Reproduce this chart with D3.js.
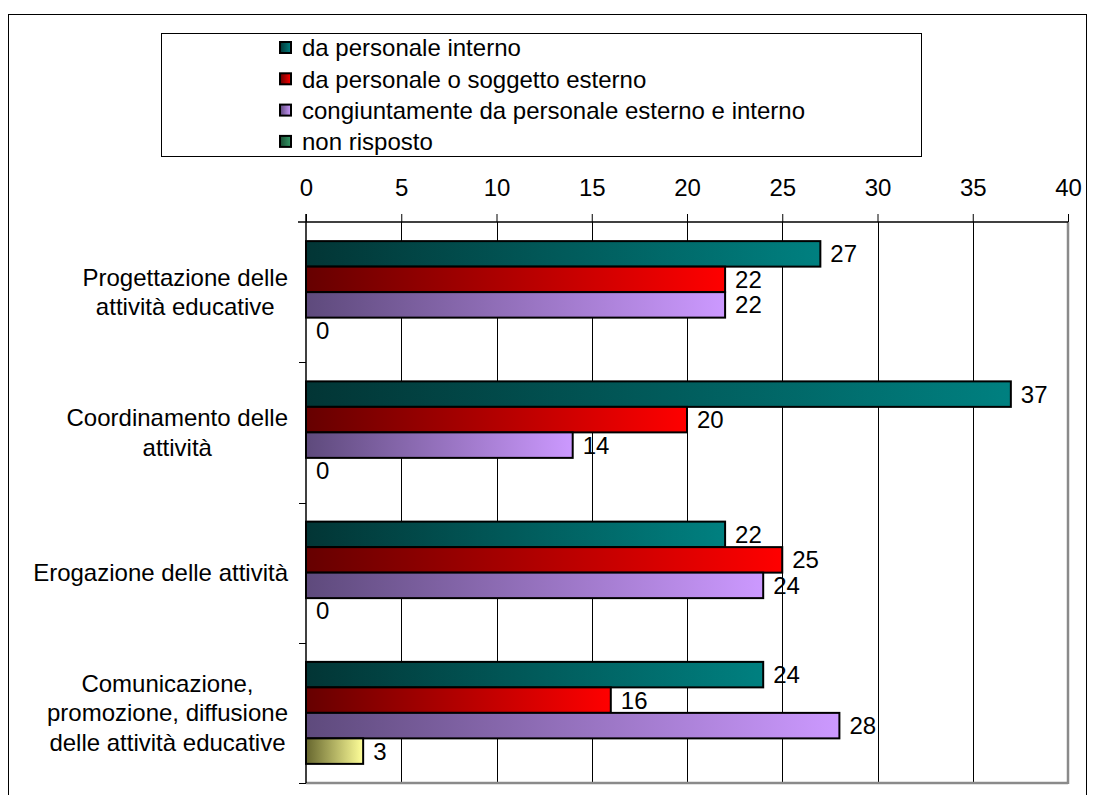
<!DOCTYPE html>
<html>
<head>
<meta charset="utf-8">
<script src="https://cdn.jsdelivr.net/npm/d3@7"></script>
<style>
  html, body { margin: 0; padding: 0; background: #fff; }
  svg { display: block; font-family: "Liberation Sans", Arial, sans-serif; }
</style>
</head>
<body>
<svg id="chart" width="1093" height="795"></svg>
<script>
// Categories (label lines) and series values
const categories = [
  ["Progettazione delle", "attività educative"],
  ["Coordinamento delle", "attività"],
  ["Erogazione delle attività"],
  ["Comunicazione,", "promozione, diffusione", "delle attività educative"]
];
const seriesNames = [
  "da personale interno",
  "da personale o soggetto esterno",
  "congiuntamente da personale esterno e interno",
  "non risposto"
];
const valInterno = [27, 37, 22, 24];
const valEsterno = [22, 20, 25, 16];
const valCongiunto = [22, 14, 24, 28];
const valNonRisposto = [0, 0, 0, 3];
const xTicks = [0, 5, 10, 15, 20, 25, 30, 35, 40];

// Gradient colours: [dark left, light right]
const barColors = [
  ["#023535", "#008080"],
  ["#660000", "#ff0000"],
  ["#5e4a7c", "#cc99ff"],
  ["#66662e", "#ffff99"]
];
const legendColors = [
  ["#023535", "#008080"],
  ["#660000", "#ff0000"],
  ["#5e4a7c", "#cc99ff"],
  ["#1a4d33", "#339966"]
];

const seriesValues = [valInterno, valEsterno, valCongiunto, valNonRisposto];
const catKeys = categories.map((c, i) => "c" + i);

const svg = d3.select("#chart");
const fontSize = 24;

const plot = { left: 306, right: 1068, top: 222, bottom: 783 };

const x = d3.scaleLinear().domain([0, 40]).range([plot.left, plot.right]);
const y0 = d3.scaleBand().domain(catKeys).range([plot.top, plot.bottom]).padding(0);
const y1 = d3.scaleBand().domain(d3.range(seriesNames.length))
  .range([0, y0.bandwidth()]).paddingInner(0).paddingOuter(0.75);

// gradients
const defs = svg.append("defs");
function addGrad(id, c) {
  const g = defs.append("linearGradient").attr("id", id)
    .attr("x1", "0%").attr("x2", "100%").attr("y1", "0%").attr("y2", "0%");
  g.append("stop").attr("offset", "0%").attr("stop-color", c[0]);
  g.append("stop").attr("offset", "100%").attr("stop-color", c[1]);
}
barColors.forEach((c, i) => addGrad("bar" + i, c));
legendColors.forEach((c, i) => addGrad("leg" + i, c));

// outer chart border
svg.append("rect").attr("x", 8.5).attr("y", 14.5).attr("width", 1078).attr("height", 800)
  .attr("fill", "none").attr("stroke", "#000").attr("stroke-width", 1);

// legend
const legend = svg.append("g");
legend.append("rect").attr("x", 161.5).attr("y", 33.5).attr("width", 760).attr("height", 123)
  .attr("fill", "#fff").attr("stroke", "#000").attr("stroke-width", 1);
seriesNames.forEach((name, i) => {
  const cy = 48 + i * 31.3;
  legend.append("rect").attr("x", 280).attr("y", cy - 6).attr("width", 11).attr("height", 11)
    .attr("fill", `url(#leg${i})`).attr("stroke", "#000").attr("stroke-width", 2);
  legend.append("text").attr("x", 302).attr("y", cy).attr("dy", "0.35em")
    .attr("font-size", fontSize).attr("fill", "#000").text(name);
});

// vertical gridlines
svg.append("g").selectAll("line").data(xTicks.slice(1, -1)).join("line")
  .attr("x1", d => Math.round(x(d)) + 0.5).attr("x2", d => Math.round(x(d)) + 0.5)
  .attr("y1", plot.top).attr("y2", plot.bottom)
  .attr("stroke", "#000").attr("stroke-width", 1);

// plot area right and bottom edges
svg.append("line").attr("x1", plot.right).attr("x2", plot.right)
  .attr("y1", plot.top).attr("y2", plot.bottom + 1)
  .attr("stroke", "#8a8a8a").attr("stroke-width", 2.5);
svg.append("line").attr("x1", plot.left).attr("x2", plot.right)
  .attr("y1", plot.bottom).attr("y2", plot.bottom)
  .attr("stroke", "#8a8a8a").attr("stroke-width", 2.5);

// top value axis
const xAxis = d3.axisTop(x).tickValues(xTicks).tickSize(8).tickPadding(18).tickSizeOuter(0);
const gx = svg.append("g").attr("transform", `translate(0,${plot.top})`).call(xAxis);
gx.select(".domain").attr("stroke", "#000").attr("stroke-width", 1.5)
  .attr("d", `M${plot.left - 8},0H${plot.right}`);
gx.selectAll(".tick line").attr("stroke", "#000").attr("stroke-width", 1);
gx.selectAll(".tick text").attr("font-size", fontSize).attr("fill", "#000")
  .attr("font-family", "Liberation Sans, Arial, sans-serif");

// left category axis line with boundary ticks
const gy = svg.append("g");
gy.append("line").attr("x1", plot.left).attr("x2", plot.left)
  .attr("y1", plot.top - 8).attr("y2", plot.bottom)
  .attr("stroke", "#000").attr("stroke-width", 1.5);
const boundaries = catKeys.map(k => y0(k)).concat([plot.bottom]);
gy.selectAll("line.b").data(boundaries.slice(1)).join("line").attr("class", "b")
  .attr("x1", plot.left - 7).attr("x2", plot.left)
  .attr("y1", d => Math.round(d) + 0.5).attr("y2", d => Math.round(d) + 0.5)
  .attr("stroke", "#000").attr("stroke-width", 1);

// bars
const barData = [];
catKeys.forEach((k, ci) => {
  seriesValues.forEach((vals, si) => barData.push({ k, si, v: vals[ci] }));
});
svg.append("g").selectAll("rect").data(barData.filter(d => d.v > 0)).join("rect")
  .attr("x", x(0))
  .attr("y", d => y0(d.k) + y1(d.si))
  .attr("width", d => x(d.v) - x(0))
  .attr("height", y1.bandwidth())
  .attr("fill", d => `url(#bar${d.si})`)
  .attr("stroke", "#000").attr("stroke-width", 2);

// value labels
svg.append("g").selectAll("text").data(barData).join("text")
  .attr("x", d => x(d.v) + 10)
  .attr("y", d => y0(d.k) + y1(d.si) + y1.bandwidth() / 2)
  .attr("dy", "0.35em")
  .attr("font-size", fontSize).attr("fill", "#000")
  .text(d => d.v);

// category labels: lines centred on each other, block right-aligned
const lineH = 29.5;
const rightEdge = 288;
catKeys.forEach((k, ci) => {
  const lines = categories[ci];
  const g = svg.append("g");
  const cy = y0(k) + y0.bandwidth() / 2;
  const texts = lines.map((ln, li) => g.append("text")
    .attr("y", cy + (li - (lines.length - 1) / 2) * lineH)
    .attr("dy", "0.35em").attr("font-size", fontSize).attr("fill", "#000")
    .attr("text-anchor", "middle").text(ln));
  const maxW = d3.max(texts, t => t.node().getComputedTextLength());
  texts.forEach(t => t.attr("x", rightEdge - maxW / 2));
});
</script>
</body>
</html>
